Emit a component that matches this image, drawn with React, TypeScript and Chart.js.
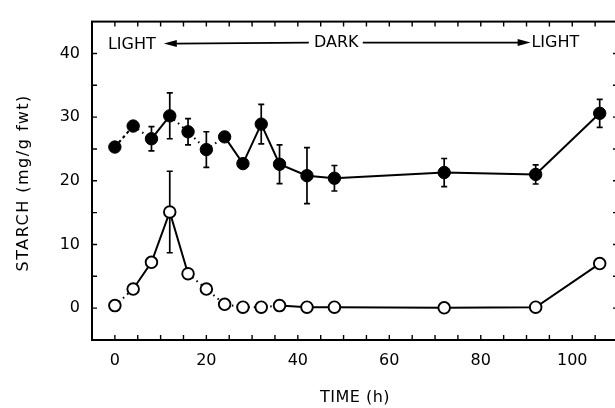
import React, { useEffect, useRef } from "react";
import { Chart, registerables } from "chart.js";

Chart.register(...registerables);

// ---- data ----
const times = [0, 4, 8, 12, 16, 20, 24, 28, 32, 36, 42, 48, 72, 92, 106];
const starchFilled = [25.3, 28.6, 26.6, 30.2, 27.7, 24.9, 26.9, 22.7, 28.9, 22.6, 20.8, 20.4, 21.3, 21.0, 30.6];
const errFilled = [0, 0, 1.9, 3.6, 2.05, 2.8, 0, 0, 3.1, 3.05, 4.4, 2.0, 2.2, 1.5, 2.2];
const starchOpen = [0.4, 3.0, 7.2, 15.1, 5.4, 3.0, 0.6, 0.15, 0.15, 0.4, 0.15, 0.15, 0.05, 0.15, 7.0];
const errOpen = [0, 0, 0, 6.4, 0, 0, 0, 0, 0, 0, 0, 0, 0, 0, 0];
const xTickLabels = [0, 20, 40, 60, 80, 100];
const yTickLabels = [0, 10, 20, 30, 40];
const phaseLabels = ["LIGHT", "DARK", "LIGHT"];
const xTitle = "TIME (h)";
const yTitle = "STARCH (mg/g fwt)";

const FONT = "DejaVu Sans";

// segment styles (scan shows short, broken connectors in places)
const filledDashed: Record<number, number[]> = { 0: [3, 3], 1: [1.5, 4], 3: [1.5, 4], 4: [1.5, 4], 5: [1.5, 4] };
const openDashed: Record<number, number[]> = { 0: [1.5, 4], 4: [1.5, 4], 5: [1.5, 4], 6: [1.5, 4], 7: [1.5, 4], 8: [1.5, 4] };

const errorBars = {
  id: "errorBars",
  beforeDatasetsDraw(chart: any) {
    const { ctx, scales } = chart;
    const x = scales.x, y = scales.y;
    const sets = [
      { v: starchFilled, e: errFilled },
      { v: starchOpen, e: errOpen },
    ];
    ctx.save();
    ctx.strokeStyle = "#000";
    ctx.lineWidth = 1.7;
    const cap = 3;
    sets.forEach(({ v, e }) => {
      times.forEach((t, i) => {
        if (!e[i]) return;
        const px = x.getPixelForValue(t);
        const top = y.getPixelForValue(v[i] + e[i]);
        const bot = y.getPixelForValue(v[i] - e[i]);
        ctx.beginPath();
        ctx.moveTo(px, top);
        ctx.lineTo(px, bot);
        ctx.moveTo(px - cap, top);
        ctx.lineTo(px + cap, top);
        ctx.moveTo(px - cap, bot);
        ctx.lineTo(px + cap, bot);
        ctx.stroke();
      });
    });
    ctx.restore();
  },
};

const frameAndText = {
  id: "frameAndText",
  afterDraw(chart: any) {
    const { ctx, chartArea: a, scales } = chart;
    const x = scales.x, y = scales.y;
    ctx.save();
    ctx.strokeStyle = "#000";
    ctx.fillStyle = "#000";
    ctx.lineWidth = 2;
    ctx.strokeRect(a.left, a.top, a.right - a.left, a.bottom - a.top);
    const L = 5;
    ctx.lineWidth = 1.4;
    ctx.beginPath();
    x.ticks.forEach((t: any) => {
      const px = x.getPixelForValue(t.value);
      if (px <= a.left + 1 || px >= a.right - 1) return;
      ctx.moveTo(px, a.bottom);
      ctx.lineTo(px, a.bottom - L);
      ctx.moveTo(px, a.top);
      ctx.lineTo(px, a.top + L);
    });
    y.ticks.forEach((t: any) => {
      const py = y.getPixelForValue(t.value);
      if (py <= a.top + 1 || py >= a.bottom - 1) return;
      ctx.moveTo(a.left, py);
      ctx.lineTo(a.left + L, py);
      ctx.moveTo(a.right, py);
      ctx.lineTo(a.right - L, py);
    });
    ctx.stroke();

    // phase annotation
    const ay = y.getPixelForValue(41.7);
    ctx.font = `16px '${FONT}'`;
    ctx.textBaseline = "middle";
    ctx.textAlign = "center";
    ctx.fillText(phaseLabels[0], x.getPixelForValue(3.7), ay + 2);
    ctx.fillText(phaseLabels[1], x.getPixelForValue(48.4), ay);
    ctx.fillText(phaseLabels[2], x.getPixelForValue(96.3), ay);
    ctx.lineWidth = 1.6;
    const l1 = x.getPixelForValue(10.7), l2 = x.getPixelForValue(42.4);
    const r1 = x.getPixelForValue(54.2), r2 = x.getPixelForValue(90.9);
    ctx.beginPath();
    ctx.moveTo(l1 + 10, ay + 1);
    ctx.lineTo(l2, ay);
    ctx.moveTo(r1, ay);
    ctx.lineTo(r2 - 10, ay);
    ctx.stroke();
    ctx.beginPath();
    ctx.moveTo(l1, ay + 1);
    ctx.lineTo(l1 + 13, ay + 1 - 3.5);
    ctx.lineTo(l1 + 13, ay + 1 + 3.5);
    ctx.closePath();
    ctx.moveTo(r2, ay);
    ctx.lineTo(r2 - 13, ay - 3.5);
    ctx.lineTo(r2 - 13, ay + 3.5);
    ctx.closePath();
    ctx.fill();

    // axis titles
    ctx.textAlign = "center";
    ctx.textBaseline = "middle";
    ctx.font = `16px '${FONT}'`;
    (ctx as any).letterSpacing = "0.5px";
    ctx.fillText(xTitle, (a.left + a.right) / 2, 398);
    ctx.translate(24, (a.top + a.bottom) / 2 + 2);
    ctx.rotate(-Math.PI / 2);
    (ctx as any).letterSpacing = "1.5px";
    ctx.fillText(yTitle, 0, 0);
    ctx.restore();
  },
};

export default function App() {
  const ref = useRef<HTMLCanvasElement | null>(null);
  useEffect(() => {
    if (!ref.current) return;
    const chart = new Chart(ref.current, {
      type: "line",
      data: {
        datasets: [
          {
            label: "filled",
            data: times.map((t, i) => ({ x: t, y: starchFilled[i] })),
            borderColor: "#000",
            borderWidth: 2,
            pointRadius: 6.2,
            pointBackgroundColor: "#000",
            pointBorderColor: "#000",
            pointBorderWidth: 1,
            segment: {
              borderDash: (c: any) => filledDashed[c.p0DataIndex] || undefined,
            },
          },
          {
            label: "open",
            data: times.map((t, i) => ({ x: t, y: starchOpen[i] })),
            borderColor: "#000",
            borderWidth: 2,
            pointRadius: 5.8,
            pointBackgroundColor: "#fff",
            pointBorderColor: "#000",
            pointBorderWidth: 1.9,
            segment: {
              borderDash: (c: any) => openDashed[c.p0DataIndex] || undefined,
            },
          },
        ],
      },
      options: {
        animation: false,
        responsive: false,
        devicePixelRatio: 1,
        layout: { padding: { left: 0, top: 14, right: 12, bottom: 0 } },
        plugins: { legend: { display: false }, tooltip: { enabled: false } },
        scales: {
          x: {
            type: "linear",
            min: -5,
            max: 110,
            grid: { display: false, drawTicks: false },
            border: { display: false },
            afterFit: (s: any) => { s.height = 68; },
            ticks: {
              stepSize: 5,
              autoSkip: false,
              maxRotation: 0,
              padding: 11,
              color: "#000",
              font: { family: FONT, size: 16 },
              callback: (v: any) => (xTickLabels.includes(Number(v)) ? String(v) : ""),
            },
          },
          y: {
            min: -5,
            max: 45,
            grid: { display: false, drawTicks: false },
            border: { display: false },
            afterFit: (s: any) => { s.width = 92; },
            ticks: {
              stepSize: 5,
              autoSkip: false,
              padding: 12,
              color: "#000",
              font: { family: FONT, size: 16 },
              callback: (v: any) => (yTickLabels.includes(Number(v)) ? String(v) : ""),
            },
          },
        },
      },
      plugins: [errorBars, frameAndText],
    });
    return () => chart.destroy();
  }, []);
  return (
    <div style={{ position: "fixed", left: 0, top: 0, width: 615, height: 408, overflow: "hidden", background: "#fff" }}>
      <canvas ref={ref} width={630} height={408} style={{ width: 630, height: 408, display: "block" }} />
    </div>
  );
}
